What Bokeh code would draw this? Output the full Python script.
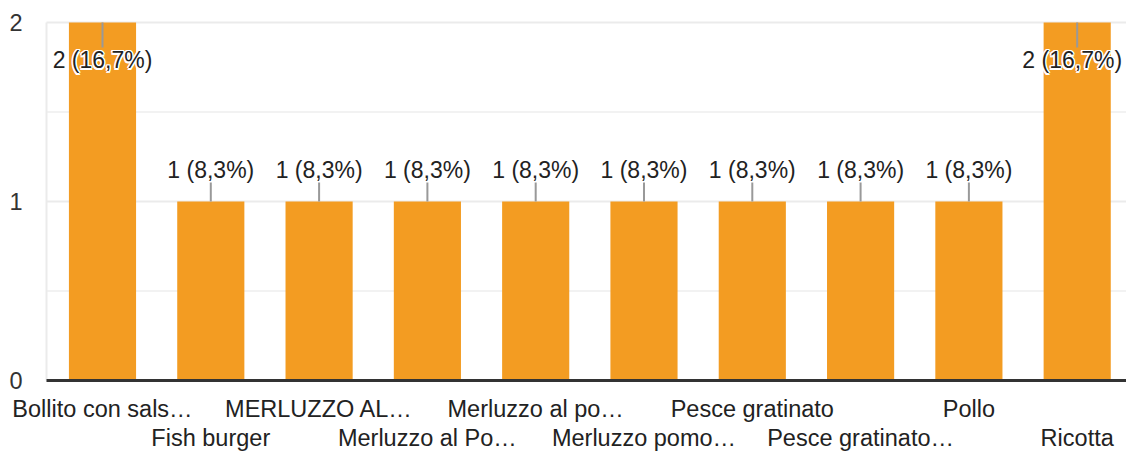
import math
from bokeh.plotting import figure
from bokeh.models import ColumnDataSource, Range1d
from bokeh.core.properties import value
from bokeh.embed import file_html
from bokeh.resources import INLINE

# ---- data ----
categories = [
    "Bollito con sals…", "Fish burger", "MERLUZZO AL…", "Merluzzo al Po…",
    "Merluzzo al po…", "Merluzzo pomo…", "Pesce gratinato", "Pesce gratinato…",
    "Pollo", "Ricotta",
]
counts = [2, 1, 1, 1, 1, 1, 1, 1, 1, 2]
percent_labels = ["16,7%", "8,3%", "8,3%", "8,3%", "8,3%", "8,3%", "8,3%", "8,3%", "8,3%", "16,7%"]
y_ticks = [0, 1, 2]
y_minor = [0.5, 1.5]

FONT = "Liberation Sans"
FS = "23.5px"
FS_VAL = "23px"
BAR = "#f39c22"
TXT = "#222222"

idx = list(range(len(categories)))
ymax = max(y_ticks)

# layout: the drawing frame fills the whole canvas so that every label can be drawn
X_START, X_END = -0.9418, 9.4553
Y_START, Y_END = -0.4022, 2.1229
PLOT_LEFT = -0.517          # left edge of the chart area (data units)

p = figure(width=1126, height=452, output_backend="svg", toolbar_location=None,
           x_range=Range1d(X_START, X_END), y_range=Range1d(Y_START, Y_END),
           min_border_left=0, min_border_right=0, min_border_top=0, min_border_bottom=0)
p.outline_line_color = None
p.background_fill_color = "white"
p.border_fill_color = "white"
p.xaxis.visible = False
p.yaxis.visible = False
p.xgrid.visible = False
p.ygrid.visible = False

# gridlines
p.segment(x0=[PLOT_LEFT] * len(y_minor), y0=y_minor, x1=[X_END] * len(y_minor), y1=y_minor,
          line_color="#f2f2f2", line_width=2)
p.segment(x0=[PLOT_LEFT] * len(y_ticks), y0=y_ticks, x1=[X_END] * len(y_ticks), y1=y_ticks,
          line_color="#ebebeb", line_width=2)
p.segment(x0=[PLOT_LEFT], y0=[0], x1=[PLOT_LEFT], y1=[ymax], line_color="#ebebeb", line_width=2)

# y tick labels
p.text(x=[PLOT_LEFT] * len(y_ticks), y=y_ticks, text=[str(t) for t in y_ticks],
       x_offset=-24, text_font=value(FONT), text_font_size=FS, text_color="#333333",
       text_align="right", text_baseline="middle")

# bars
bars = ColumnDataSource(dict(x=idx, top=counts))
p.vbar(x="x", top="top", width=0.62, source=bars, fill_color=BAR, line_color=None)

# baseline
p.segment(x0=[PLOT_LEFT], y0=[0], x1=[X_END], y1=[0], line_color="#333333", line_width=3)

# value labels with leader lines
inside = [c >= ymax for c in counts]
texts = [f"{c} ({pc})" for c, pc in zip(counts, percent_labels)]
yoffs = [38 if ins else -32 for ins in inside]
xoffs = [-5 if i == len(idx) - 1 else 0 for i in idx]   # keep last label inside the canvas
lab = ColumnDataSource(dict(
    x=idx, y=counts, text=texts, yoff=yoffs, xoff=xoffs,
    ray_len=[25 if ins else 19 for ins in inside],
    ray_ang=[-math.pi / 2 if ins else math.pi / 2 for ins in inside],
))
p.ray(x="x", y="y", length="ray_len", angle="ray_ang", length_units="screen",
      source=lab, line_color="#999999", line_width=2)

halo_offsets = [(-1.5, 0), (1.5, 0), (0, -1.5), (0, 1.5),
                (-1.1, -1.1), (1.1, -1.1), (-1.1, 1.1), (1.1, 1.1)]
for dx, dy in halo_offsets:
    src = ColumnDataSource(dict(x=idx, y=counts, text=texts,
                                yoff=[v + dy for v in yoffs], xoff=[v + dx for v in xoffs]))
    p.text(x="x", y="y", text="text", source=src, x_offset="xoff", y_offset="yoff",
           text_font=value(FONT), text_font_size=FS_VAL, text_color="white",
           text_align="center", text_baseline="middle")
p.text(x="x", y="y", text="text", source=lab, x_offset="xoff", y_offset="yoff",
       text_font=value(FONT), text_font_size=FS_VAL, text_color=TXT,
       text_align="center", text_baseline="middle")

# category labels in two staggered rows below the baseline
cats = ColumnDataSource(dict(
    x=idx, y=[0] * len(idx), text=categories,
    yoff=[28 if i % 2 == 0 else 57 for i in idx],
))
p.text(x="x", y="y", text="text", source=cats, y_offset="yoff",
       text_font=value(FONT), text_font_size=FS, text_color=TXT,
       text_align="center", text_baseline="middle")

open("out.html", "w").write(file_html(p, INLINE))
